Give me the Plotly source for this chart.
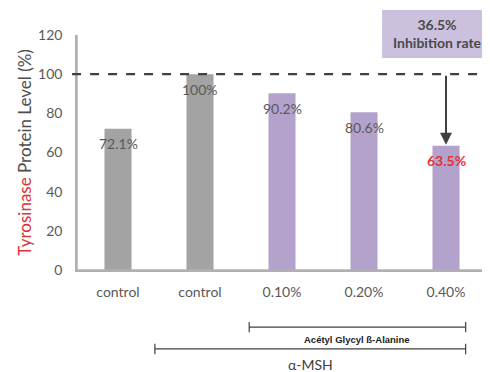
import plotly.graph_objects as go

categories = ["control", "control", "0.10%", "0.20%", "0.40%"]
values = [72.1, 100, 90.2, 80.6, 63.5]
labels = ["72.1%", "100%", "90.2%", "80.6%", "63.5%"]
bar_colors = ["#a3a3a3", "#a3a3a3", "#b3a2cc", "#b3a2cc", "#b3a2cc"]
label_colors = ["#595959", "#595959", "#595959", "#595959", "#e8303a"]
reference_level = 100
inhibition_text = "36.5%<br>Inhibition rate"
y_ticks = [0, 20, 40, 60, 80, 100, 120]

FONT = "Lato, Open Sans, sans-serif"
x = list(range(len(categories)))

fig = go.Figure()
fig.add_trace(go.Bar(x=x, y=values, marker=dict(color=bar_colors, line=dict(width=0)),
                     width=0.33, hoverinfo="skip"))

annotations = []
for i, (v, t, c) in enumerate(zip(values, labels, label_colors)):
    annotations.append(dict(x=i, y=v, text=("<b>%s</b>" % t) if i == 4 else t,
                            showarrow=False, yshift=-15, xref="x", yref="y",
                            font=dict(family=FONT, size=14, color=c)))

# inhibition box text
annotations.append(dict(x=0.88, y=1.005, xref="paper", yref="paper", xanchor="center", yanchor="middle",
                        text="<b>" + inhibition_text + "</b>",
                        showarrow=False, font=dict(family=FONT, size=14, color="#4a4a4a"),
                        align="center"))
# arrow
annotations.append(dict(x=4, y=values[4] + 0.5, ax=4, ay=reference_level, xref="x", yref="y",
                        axref="x", ayref="y", showarrow=True, arrowhead=2, arrowsize=1.2,
                        arrowwidth=2, arrowcolor="#404040", text=""))
# bracket labels
annotations.append(dict(x=(1.6 + 4.24) / 2, y=-0.294, xref="x", yref="paper", showarrow=False,
                        xanchor="center", yanchor="middle",
                        text="<b>Acétyl Glycyl ß-Alanine</b>",
                        font=dict(family="Liberation Sans, Arial", size=9.5, color="#222222")))
annotations.append(dict(x=(0.45 + 4.24) / 2, y=-0.404, xref="x", yref="paper", showarrow=False,
                        xanchor="center", yanchor="middle",
                        text="α-MSH", font=dict(family=FONT, size=14, color="#404040")))

shapes = [
    # axis lines
    dict(type="line", xref="paper", yref="paper", x0=0, x1=1.01, y0=0, y1=0,
         line=dict(color="#b0b0b0", width=1.5), layer="above"),
    dict(type="line", xref="paper", yref="paper", x0=0, x1=0, y0=0, y1=1,
         line=dict(color="#b0b0b0", width=1.5), layer="above"),
    # dashed reference line
    dict(type="line", xref="paper", yref="y", x0=-0.012, x1=1.01, y0=reference_level, y1=reference_level,
         line=dict(color="#404040", width=2.2, dash="dash")),
    # inhibition box
    dict(type="rect", xref="paper", yref="paper", x0=0.744, x1=1.01, y0=0.902, y1=1.106,
         fillcolor="#cbc0de", line=dict(width=0), layer="below"),
]
for (x0, x1, yy) in [(1.6, 4.24, -0.243), (0.45, 4.24, -0.336)]:
    shapes.append(dict(type="line", xref="x", yref="paper", x0=x0, x1=x1, y0=yy, y1=yy,
                       line=dict(color="#404040", width=1.2)))
    for xe in (x0, x1):
        shapes.append(dict(type="line", xref="x", yref="paper", x0=xe, x1=xe, y0=yy - 0.022, y1=yy + 0.022,
                           line=dict(color="#404040", width=1.2)))

fig.update_layout(
    width=490, height=372,
    margin=dict(l=69, r=11, t=27, b=110, autoexpand=False),
    paper_bgcolor="white", plot_bgcolor="white",
    showlegend=False,
    annotations=annotations, shapes=shapes,
    xaxis=dict(tickvals=x, ticktext=categories, range=[-0.5, 4.5], showgrid=False, automargin=False,
               showline=True, linecolor="#b0b0b0", linewidth=1.5,
               ticks="outside", ticklen=8, tickcolor="rgba(0,0,0,0)",
               tickfont=dict(family=FONT, size=14, color="#595959"), fixedrange=True),
    yaxis=dict(range=[0, 120], tickvals=y_ticks, showgrid=False, zeroline=False, automargin=False,
               showline=True, linecolor="#b0b0b0", linewidth=1.5,
               ticks="outside", ticklen=10, tickcolor="rgba(0,0,0,0)",
               tickfont=dict(family=FONT, size=14, color="#595959"),
               title=dict(text="<span style='color:#e0303c'>Tyrosinase</span> Protein Level (%)",
                          font=dict(family=FONT, size=17, color="#4d4d4d"), standoff=2)),
)

fig.write_html("out.html")
